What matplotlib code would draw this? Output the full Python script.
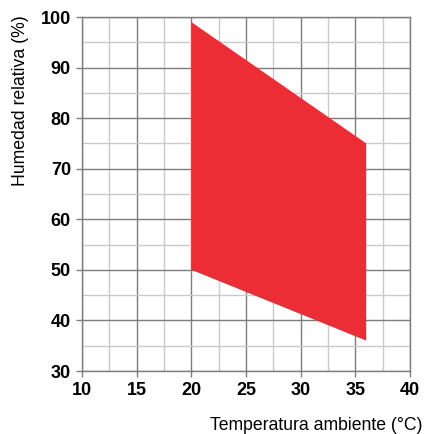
import matplotlib
matplotlib.use("Agg")
import matplotlib.pyplot as plt
from matplotlib.ticker import MultipleLocator

# Data: polygon of operating region (temperature °C, relative humidity %)
temp = [20, 36, 36, 20]
humidity = [99, 75, 36, 50]

xticks = [10, 15, 20, 25, 30, 35, 40]
yticks = [30, 40, 50, 60, 70, 80, 90, 100]

plt.rcParams['font.family'] = ['Liberation Sans', 'DejaVu Sans']

fig = plt.figure(figsize=(4.25, 4.34), dpi=100)
ax = fig.add_axes([82/425, 1-371/434, (410-82)/425, (371-17)/434])

ax.fill(temp, humidity, color='#ED2D35', lw=0, zorder=3)

ax.set_xlim(10, 40)
ax.set_ylim(30, 100)
ax.set_xticks(xticks)
ax.set_yticks(yticks)
ax.xaxis.set_minor_locator(MultipleLocator(2.5))
ax.yaxis.set_minor_locator(MultipleLocator(5))
ax.grid(which='minor', color='#c9cad0', lw=1.0, zorder=1)
ax.grid(which='major', color='#7d7d7d', lw=1.0, zorder=2)
ax.set_axisbelow(True)
for s in ax.spines.values():
    s.set_color('#7d7d7d')
    s.set_linewidth(1.0)
ax.tick_params(which='minor', length=0)
ax.tick_params(which='major', length=4, width=1, color='#7d7d7d', pad=4,
               labelsize=13)
for lab in ax.get_xticklabels() + ax.get_yticklabels():
    lab.set_fontweight('bold')

fig.text(12/425, 1-15/434, 'Humedad relativa (%)', rotation=90, ha='left', va='top',
         fontsize=12.7)
fig.text(422/425, 1-417/434, 'Temperatura ambiente (°C)', ha='right', va='top',
         fontsize=12.7)

fig.savefig('out.png', dpi=100)
